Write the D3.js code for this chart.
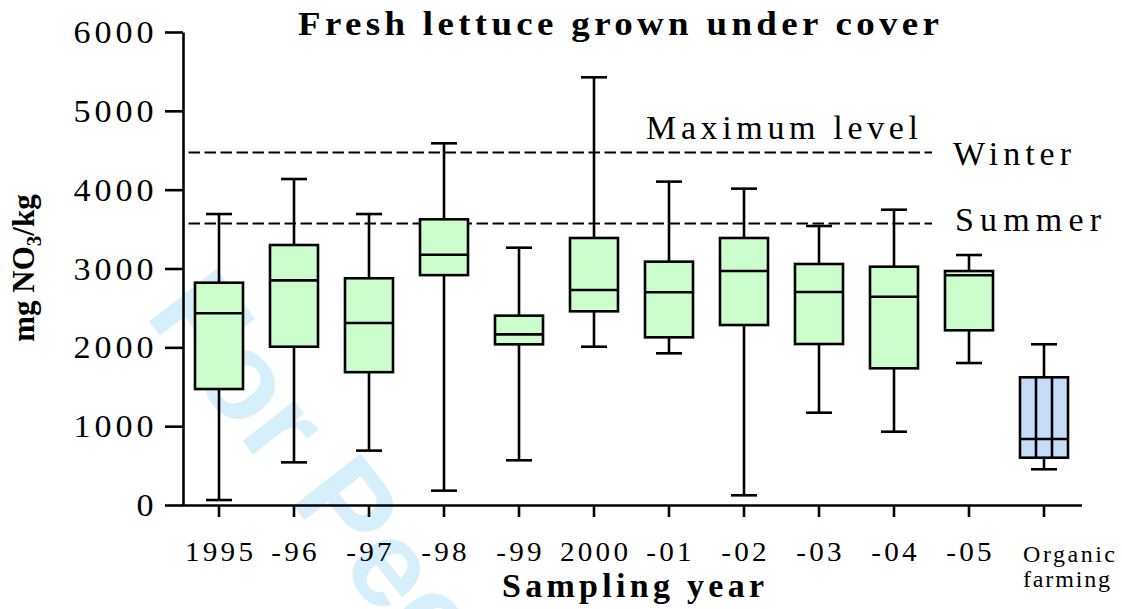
<!DOCTYPE html>
<html>
<head>
<meta charset="utf-8">
<script src="https://cdn.jsdelivr.net/npm/d3@7"></script>
<style>
  html, body { margin: 0; padding: 0; background: #ffffff; }
  svg { display: block; }
</style>
</head>
<body>
<div id="chart"></div>
<script>
// ---------- data ----------
const categories = ["1995", "-96", "-97", "-98", "-99", "2000", "-01", "-02", "-03", "-04", "-05", "Organic farming"];
const minValues    = [63, 541, 690, 182, 567, 2008, 1924, 123, 1171, 930, 1801, 453];
const q1Values     = [1471, 2008, 1685, 2916, 2038, 2457, 2127, 2283, 2042, 1734, 2216, 600];
const medianValues = [2432, 2850, 2309, 3175, 2165, 2727, 2698, 2968, 2702, 2642, 2914, 837];
const q3Values     = [2820, 3298, 2876, 3624, 2402, 3387, 3087, 3387, 3057, 3023, 2968, 1620];
const maxValues    = [3691, 4135, 3691, 4588, 3264, 5425, 4102, 4013, 3539, 3746, 3171, 2039];
const yTickValues  = [0, 1000, 2000, 3000, 4000, 5000, 6000];
const limitValues  = [4470, 3570];           // winter, summer maximum levels
const limitLabels  = ["Winter", "Summer"];
const organicCategory = "Organic farming";

// ---------- setup ----------
const W = 1122, H = 609;
const svg = d3.select("#chart").append("svg").attr("width", W).attr("height", H);

const y = d3.scaleLinear().domain([0, 6000]).range([505, 32]);
const x = d3.scaleBand().domain(categories).range([181.5, 1081.5]).paddingInner(0).paddingOuter(0);
const cx = c => x(c) + x.bandwidth() / 2;

const serif = "'Liberation Serif', 'Times New Roman', serif";
const green = "#ccfdcc", blue = "#c7dcf6";
const LW = 2.6;

// watermark
svg.append("text")
  .attr("transform", "translate(144,315) rotate(52)")
  .attr("font-family", "'Liberation Sans', Arial, sans-serif")
  .attr("font-weight", "bold")
  .attr("font-size", 124)
  .attr("fill", "#d6effb")
  .text("For Peer Review");

// free text helper
function label(str, x0, y0, opts) {
  const t = svg.append("text")
    .attr("transform", `translate(${x0},${y0}) scale(${opts.sx || 1},1)`)
    .attr("font-family", serif)
    .attr("font-size", opts.size)
    .attr("font-weight", opts.weight || "normal")
    .attr("fill", "#000")
    .text(str);
  if (opts.width) {
    t.attr("textLength", opts.width / (opts.sx || 1)).attr("lengthAdjust", "spacing");
  }
  return t;
}

// title
label("Fresh lettuce grown under cover", 298, 35, {size: 33, weight: "bold", sx: 1.12, width: 641});

// dashed max levels
svg.append("g").selectAll("line").data(limitValues).join("line")
  .attr("x1", 188.5).attr("x2", 932)
  .attr("y1", d => y(d)).attr("y2", d => y(d))
  .attr("stroke", "#000").attr("stroke-width", 2)
  .attr("stroke-dasharray", "11.5,4.5");

label("Maximum level", 646, 138.5, {size: 34, width: 272});
label(limitLabels[0], 953, y(limitValues[0]) + 12.5, {size: 34, width: 118});
label(limitLabels[1], 955, y(limitValues[1]) + 7, {size: 34, width: 146});

// ---------- axes ----------
const yAxis = svg.append("g").attr("transform", "translate(183,0)")
  .call(d3.axisLeft(y).tickValues(yTickValues).tickSize(18).tickSizeOuter(0).tickPadding(11).tickFormat(d => String(d)));
yAxis.select(".domain").attr("stroke", "#000").attr("stroke-width", LW);
yAxis.selectAll(".tick line").attr("stroke", "#000").attr("stroke-width", LW);
yAxis.selectAll(".tick text")
  .attr("font-family", serif).attr("font-size", 31).attr("fill", "#000")
  .attr("letter-spacing", 3.6)
  .attr("x", -25.5 / 1.1).attr("dy", "0.34em")
  .attr("transform", "scale(1.1,1)");

const xAxis = svg.append("g").attr("transform", "translate(0,505)")
  .call(d3.axisBottom(x).tickSize(12).tickSizeOuter(0));
xAxis.select(".domain").attr("stroke", "#000").attr("stroke-width", LW);
xAxis.selectAll(".tick line").attr("stroke", "#000").attr("stroke-width", LW);
xAxis.selectAll(".tick text")
  .attr("font-family", serif).attr("font-size", 27).attr("fill", "#000")
  .attr("letter-spacing", 3)
  .attr("x", 1.5)
  .attr("y", 56.5).attr("dy", 0)
  .attr("transform", "scale(1.08,1)");
// organic two-line label
xAxis.selectAll(".tick text").filter(d => d === organicCategory)
  .text(null)
  .attr("transform", null)
  .attr("letter-spacing", null)
  .attr("text-anchor", "start")
  .attr("font-size", 24)
  .attr("y", null)
  .each(function() {
    const t = d3.select(this);
    t.append("tspan").attr("x", -21).attr("y", 56.7).attr("textLength", 92).attr("lengthAdjust", "spacing").text("Organic");
    t.append("tspan").attr("x", -21).attr("y", 81.7).attr("textLength", 87).attr("lengthAdjust", "spacing").text("farming");
  });

// y axis title
const yt = svg.append("text")
  .attr("transform", "translate(34,268) rotate(-90)")
  .attr("text-anchor", "middle")
  .attr("font-family", serif).attr("font-size", 31).attr("font-weight", "bold").attr("fill", "#000");
yt.append("tspan").text("mg NO");
yt.append("tspan").attr("font-size", 21).attr("dy", 7).text("3");
yt.append("tspan").attr("dy", -7).text("/kg");

// x axis title
label("Sampling year", 502, 597, {size: 34, weight: "bold", width: 262});

// ---------- boxes ----------
const boxes = categories.map((c, i) => ({
  c, min: minValues[i], q1: q1Values[i], med: medianValues[i], q3: q3Values[i], max: maxValues[i]
}));
const boxW = 48, capW = 26;
const gb = svg.append("g");
const b = gb.selectAll("g.box").data(boxes).join("g").attr("class", "box");

// whiskers
b.append("line")
  .attr("x1", d => cx(d.c)).attr("x2", d => cx(d.c))
  .attr("y1", d => y(d.max)).attr("y2", d => y(d.q3))
  .attr("stroke", "#000").attr("stroke-width", LW);
b.append("line")
  .attr("x1", d => cx(d.c)).attr("x2", d => cx(d.c))
  .attr("y1", d => y(d.q1)).attr("y2", d => y(d.min))
  .attr("stroke", "#000").attr("stroke-width", LW);
// caps
b.append("line")
  .attr("x1", d => cx(d.c) - capW / 2).attr("x2", d => cx(d.c) + capW / 2)
  .attr("y1", d => y(d.max)).attr("y2", d => y(d.max))
  .attr("stroke", "#000").attr("stroke-width", LW);
b.append("line")
  .attr("x1", d => cx(d.c) - capW / 2).attr("x2", d => cx(d.c) + capW / 2)
  .attr("y1", d => y(d.min)).attr("y2", d => y(d.min))
  .attr("stroke", "#000").attr("stroke-width", LW);
// box
b.append("rect")
  .attr("x", d => cx(d.c) - boxW / 2).attr("width", boxW)
  .attr("y", d => y(d.q3)).attr("height", d => y(d.q1) - y(d.q3))
  .attr("fill", d => d.c === organicCategory ? blue : green)
  .attr("stroke", "#000").attr("stroke-width", LW);
// organic box internal verticals
b.filter(d => d.c === organicCategory).selectAll("line.inner").data(d => [1 / 3, 2 / 3].map(f => ({d, f})))
  .join("line").attr("class", "inner")
  .attr("x1", o => cx(o.d.c) - boxW / 2 + boxW * o.f).attr("x2", o => cx(o.d.c) - boxW / 2 + boxW * o.f)
  .attr("y1", o => y(o.d.q3)).attr("y2", o => y(o.d.q1))
  .attr("stroke", "#000").attr("stroke-width", LW);
// median
b.append("line")
  .attr("x1", d => cx(d.c) - boxW / 2).attr("x2", d => cx(d.c) + boxW / 2)
  .attr("y1", d => y(d.med)).attr("y2", d => y(d.med))
  .attr("stroke", "#000").attr("stroke-width", LW);
</script>
</body>
</html>
